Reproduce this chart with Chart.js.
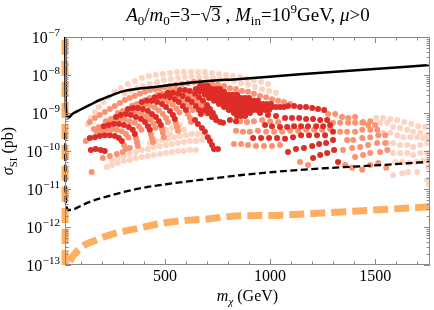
<!DOCTYPE html>
<html>
<head>
<meta charset="utf-8">
<script src="https://cdn.jsdelivr.net/npm/chart.js@4/dist/chart.umd.min.js"></script>
<style>
  html, body { margin: 0; padding: 0; background: #fff; }
  canvas { display: block; }
</style>
</head>
<body>
<canvas id="sigmaChart" width="434" height="310"></canvas>
<script>
// Limit curves: [m_chi (GeV), sigma_SI (pb)]
const solidLimit = [
    [26, 2e-7], [27, 1e-8], [29, 1.5e-9], [33, 9e-10], [40, 7.6e-10], [63, 9.7e-10],
    [95, 1.2e-9], [143, 1.63e-9], [190, 2.2e-9], [224, 2.6e-9], [300, 3.7e-9], [462, 4.9e-9],
    [666, 6.6e-9], [857, 7.9e-9], [1142, 1.04e-8], [1428, 1.36e-8], [1761, 1.83e-8],
];
const dashedLimit = [
    [26, 3e-10], [27, 2e-11], [29, 5e-12], [33, 3.3e-12], [40, 2.8e-12], [50, 2.8e-12],
    [65, 2.9e-12], [100, 3.6e-12], [143, 4.6e-12], [222, 6.3e-12], [381, 1.04e-11],
    [538, 1.41e-11], [666, 1.73e-11], [857, 2.3e-11], [1047, 2.9e-11], [1214, 3.4e-11],
    [1476, 4.1e-11], [1761, 5.2e-11],
];
const orangeLimit = [
    [25, 3e-7], [25.3, 1e-10], [25.6, 8e-14], [32, 5e-14], [40, 8e-14], [48, 1.2e-13],
    [76, 2.1e-13], [105, 3.0e-13], [162, 4.3e-13], [267, 6.9e-13], [367, 9.1e-13],
    [481, 1.24e-12], [590, 1.48e-12], [700, 1.62e-12], [809, 1.9e-12], [1050, 2.05e-12],
    [1286, 2.4e-12], [1520, 2.85e-12], [1761, 3.4e-12],
];

// Scan points, three shades
const redPoints = [
    [148, 1.06e-10], [171, 1.13e-10], [195, 1.06e-10], [214, 1.0e-10],
    [143, 2.2e-10], [167, 2.3e-10], [190, 2.5e-10], [214, 2.6e-10], [238, 2.6e-10], [262, 2.5e-10], [281, 2.2e-10], [295, 1.84e-10],
    [209, 4.5e-10], [233, 4.8e-10], [257, 5.1e-10], [281, 5.1e-10], [305, 4.8e-10], [328, 4.3e-10], [347, 3.6e-10], [357, 2.8e-10],
    [267, 7.8e-10], [290, 8.9e-10], [314, 9.4e-10], [338, 8.9e-10], [362, 7.8e-10], [386, 6.9e-10], [405, 5.8e-10], [419, 4.5e-10], [428, 3.6e-10],
    [324, 1.27e-9], [347, 1.35e-9], [371, 1.35e-9], [395, 1.27e-9], [419, 1.13e-9], [438, 9.4e-10], [457, 7.8e-10], [471, 6.1e-10], [481, 4.8e-10],
    [390, 1.95e-9], [414, 2.1e-9], [438, 2.1e-9], [462, 1.95e-9], [486, 1.73e-9], [505, 1.44e-9], [524, 1.13e-9], [538, 8.9e-10], [547, 6.9e-10],
    [452, 2.6e-9], [476, 2.8e-9], [500, 2.8e-9], [524, 2.6e-9], [547, 2.3e-9], [566, 1.95e-9], [585, 1.53e-9], [600, 1.2e-9],
    [514, 3.4e-9], [538, 3.4e-9], [562, 3.2e-9], [585, 2.8e-9], [609, 2.3e-9], [628, 1.95e-9], [647, 1.53e-9], [662, 1.2e-9], [671, 9.4e-10],
    [571, 4.0e-9], [595, 4.0e-9], [619, 3.8e-9], [643, 3.2e-9], [662, 2.6e-9], [681, 2.1e-9], [700, 1.63e-9], [714, 1.27e-9], [728, 1.0e-9], [738, 7.8e-10],
    [643, 6.5e-10], [657, 5.1e-10], [676, 4.0e-10], [690, 3.2e-10], [704, 2.3e-10], [714, 1.84e-10], [724, 1.44e-10], [733, 1.13e-10], [752, 1.13e-10],
    [690, 1.2e-9], [704, 1.0e-9], [724, 7.8e-10], [743, 6.5e-10], [762, 5.8e-10], [776, 5.5e-10], [809, 6.5e-10], [838, 6.1e-10],
    [666, 5.1e-9], [685, 5.1e-9], [704, 5.1e-9],
    [647, 4.3e-9], [666, 4.3e-9], [685, 4.3e-9], [704, 4.3e-9], [724, 4.3e-9], [743, 4.3e-9], [762, 4.3e-9],
    [666, 3.6e-9], [685, 3.6e-9], [704, 3.6e-9], [724, 3.6e-9], [743, 3.6e-9], [762, 3.6e-9], [781, 3.6e-9],
    [690, 3.0e-9], [709, 3.0e-9], [728, 3.0e-9], [747, 3.0e-9], [766, 3.0e-9], [785, 3.0e-9], [804, 3.0e-9], [823, 3.0e-9], [843, 3.0e-9],
    [709, 2.5e-9], [728, 2.5e-9], [747, 2.5e-9], [766, 2.5e-9], [785, 2.5e-9], [804, 2.5e-9], [823, 2.5e-9], [843, 2.5e-9], [862, 2.5e-9], [881, 2.5e-9], [900, 2.5e-9],
    [733, 2.1e-9], [752, 2.1e-9], [771, 2.1e-9], [790, 2.1e-9], [809, 2.1e-9], [828, 2.1e-9], [847, 2.1e-9], [866, 2.1e-9], [886, 2.1e-9], [904, 2.1e-9], [923, 2.1e-9], [942, 2.1e-9],
    [757, 1.73e-9], [776, 1.73e-9], [795, 1.73e-9], [814, 1.73e-9], [833, 1.73e-9], [852, 1.73e-9], [871, 1.73e-9], [890, 1.73e-9], [909, 1.73e-9], [928, 1.73e-9], [947, 1.73e-9], [966, 1.73e-9], [985, 1.73e-9], [1004, 1.73e-9],
    [781, 1.44e-9], [800, 1.44e-9], [819, 1.44e-9], [838, 1.44e-9], [857, 1.44e-9], [876, 1.44e-9], [895, 1.44e-9], [914, 1.44e-9], [933, 1.44e-9], [952, 1.44e-9], [971, 1.44e-9], [990, 1.44e-9], [1009, 1.44e-9], [1028, 1.44e-9], [1047, 1.44e-9], [1066, 1.44e-9],
    [804, 1.2e-9], [823, 1.2e-9], [843, 1.2e-9], [862, 1.2e-9], [881, 1.2e-9], [900, 1.2e-9], [919, 1.2e-9], [938, 1.2e-9], [957, 1.2e-9], [976, 1.2e-9], [995, 1.2e-9],
    [828, 1.0e-9], [847, 1.0e-9], [866, 1.0e-9], [886, 1.0e-9], [904, 1.0e-9],
    [843, 8.3e-10], [862, 8.3e-10], [881, 8.3e-10],
    [1085, 1.53e-9], [1114, 1.53e-9], [1142, 1.44e-9], [1171, 1.44e-9], [1200, 1.35e-9], [1228, 1.27e-9], [1257, 1.2e-9],
    [952, 1.0e-9], [990, 8.9e-10], [1028, 8.3e-10], [1071, 7.4e-10], [1104, 7.4e-10], [1138, 7.4e-10], [1171, 6.9e-10], [1204, 6.9e-10], [1238, 6.5e-10], [1271, 6.5e-10],
    [976, 4.8e-10], [1009, 4.5e-10], [1047, 4.3e-10], [1081, 4.3e-10], [1114, 4.5e-10], [1147, 4.5e-10], [1180, 4.5e-10], [1219, 4.5e-10], [1252, 4.5e-10], [1285, 4.8e-10],
    [919, 2.2e-10], [957, 2.2e-10], [995, 2.2e-10], [1033, 2.2e-10], [1071, 2.1e-10], [1109, 2.3e-10], [1147, 2.6e-10], [1185, 2.6e-10], [1223, 2.6e-10], [1261, 2.6e-10], [1299, 3.2e-10],
    [1085, 9.4e-11], [1123, 1.13e-10], [1161, 1.2e-10], [1200, 1.35e-10], [1233, 1.53e-10], [1266, 1.63e-10], [1299, 1.95e-10],
    [1204, 6.5e-11], [1238, 7.8e-11], [1271, 8.9e-11], [1304, 1.06e-10], [1323, 5.1e-11],
];

const salmonPoints = [
    [124, 1.84e-10], [162, 3.8e-10], [186, 4.3e-10], [219, 6.1e-10], [243, 6.9e-10], [276, 1.0e-9], [300, 1.13e-9],
    [343, 1.53e-9], [367, 1.73e-9], [405, 2.2e-9], [428, 2.5e-9], [466, 3.0e-9], [490, 3.2e-9], [524, 3.8e-9], [547, 4.0e-9],
    [143, 5.8e-10], [167, 7.4e-10], [190, 8.9e-10], [214, 1.06e-9], [238, 1.27e-9], [262, 1.53e-9], [286, 1.84e-9],
    [309, 2.2e-9], [333, 2.5e-9], [357, 2.8e-9], [381, 3.2e-9], [405, 3.6e-9], [428, 4.0e-9], [452, 4.3e-9], [476, 4.5e-9],
    [500, 4.8e-9], [524, 5.1e-9], [552, 5.5e-9], [581, 5.8e-9], [609, 6.1e-9], [638, 6.5e-9], [666, 6.5e-9], [695, 6.1e-9],
    [724, 5.8e-9], [752, 5.5e-9], [781, 5.1e-9], [809, 4.5e-9], [838, 4.3e-9], [866, 3.8e-9], [895, 3.6e-9], [923, 3.2e-9],
    [952, 2.8e-9], [981, 2.6e-9], [1009, 2.3e-9], [1038, 2.1e-9], [1066, 1.95e-9], [1095, 1.73e-9],
    // arcs lying between the red ones
    [176, 3.2e-10], [200, 3.4e-10], [224, 3.6e-10], [248, 3.7e-10], [271, 3.6e-10], [295, 3.3e-10], [314, 2.8e-10], [326, 2.25e-10],
    [238, 6.0e-10], [262, 6.5e-10], [286, 6.9e-10], [309, 6.7e-10], [333, 6.1e-10], [357, 5.5e-10], [376, 4.5e-10], [388, 3.6e-10],
    [295, 1.0e-9], [319, 1.1e-9], [343, 1.13e-9], [367, 1.06e-9], [390, 9.4e-10], [412, 8.0e-10], [431, 6.7e-10], [445, 5.3e-10], [455, 4.1e-10],
    [357, 1.58e-9], [381, 1.68e-9], [405, 1.68e-9], [428, 1.58e-9], [452, 1.4e-9], [471, 1.16e-9], [490, 9.4e-10], [505, 7.4e-10], [514, 5.8e-10],
    [421, 2.25e-9], [445, 2.4e-9], [469, 2.4e-9], [493, 2.25e-9], [516, 2.0e-9], [536, 1.68e-9], [555, 1.31e-9], [569, 1.03e-9],
    [483, 3.0e-9], [507, 3.1e-9], [531, 3.0e-9], [555, 2.7e-9], [578, 2.3e-9], [597, 1.95e-9], [616, 1.53e-9], [633, 1.2e-9],
    [543, 3.7e-9], [566, 3.7e-9], [590, 3.5e-9], [614, 3.0e-9], [635, 2.5e-9], [657, 2.0e-9], [674, 1.58e-9], [688, 1.23e-9], [700, 9.7e-10],
    [305, 1.44e-10], [314, 1.13e-10], [362, 2.2e-10], [367, 1.73e-10], [371, 1.35e-10], [433, 2.8e-10], [438, 2.2e-10], [443, 1.73e-10],
    [486, 3.8e-10], [490, 3.0e-10], [495, 2.3e-10], [552, 5.5e-10], [557, 4.3e-10], [562, 3.4e-10], [609, 9.4e-10], [619, 7.4e-10], [624, 5.8e-10],
    [857, 6.1e-10], [890, 5.8e-10], [923, 6.1e-10], [962, 6.5e-10], [1000, 6.1e-10], [1038, 5.8e-10],
    [838, 3.4e-10], [871, 3.2e-10], [904, 3.2e-10], [942, 3.4e-10], [981, 3.2e-10], [1019, 3.2e-10], [1057, 3.2e-10],
    [1095, 3.4e-10], [1133, 3.4e-10], [1171, 3.6e-10], [1209, 3.6e-10], [1247, 3.6e-10], [1285, 3.8e-10],
    [828, 1.53e-10], [862, 1.53e-10], [895, 1.44e-10], [933, 1.35e-10], [971, 1.35e-10], [1009, 1.35e-10], [1047, 1.44e-10],
    [1142, 5.1e-11], [1180, 4.3e-11], [1357, 4.3e-11], [1390, 3.6e-11],
    [1276, 9.4e-10], [1309, 9.4e-10], [1342, 7.8e-10], [1371, 7.4e-10], [1404, 7.8e-10], [1442, 5.8e-10], [1476, 6.1e-10],
    [1299, 5.5e-10], [1333, 5.5e-10], [1371, 5.5e-10], [1404, 5.5e-10], [1438, 5.5e-10], [1466, 4.8e-10], [1499, 4.8e-10],
    [1333, 3.2e-10], [1366, 3.2e-10], [1404, 3.2e-10], [1438, 3.6e-10], [1476, 3.6e-10], [1509, 3.6e-10],
    [1366, 1.95e-10], [1395, 1.95e-10], [1438, 2.2e-10], [1476, 2.3e-10], [1514, 2.6e-10], [1547, 2.6e-10],
    [1347, 1.06e-10], [1390, 1.2e-10], [1428, 1.27e-10], [1466, 1.44e-10], [1509, 1.63e-10], [1547, 1.63e-10],
    [1404, 6.9e-11], [1442, 7.8e-11], [1476, 8.9e-11], [1523, 9.4e-11], [1557, 1.06e-10],
    [1438, 3.2e-11], [1476, 4.3e-11], [1514, 4.8e-11], [1552, 3.6e-11],
    [205, 6.5e-11], [238, 7.4e-11], [271, 8.3e-11], [300, 9.4e-11], [333, 1.2e-10], [152, 2.8e-11],
];

const palePoints = [
    [133, 5.1e-10], [148, 7.4e-10], [167, 1.06e-9], [186, 1.44e-9], [209, 1.95e-9], [233, 2.6e-9], [262, 3.6e-9],
    [290, 4.5e-9], [324, 5.8e-9], [357, 6.9e-9], [390, 8.3e-9], [424, 9.4e-9], [457, 1.0e-8], [490, 1.06e-8],
    [524, 1.13e-8], [557, 1.2e-8], [590, 1.2e-8], [624, 1.2e-8], [657, 1.2e-8], [690, 1.2e-8], [724, 1.13e-8],
    [757, 1.06e-8], [790, 1.0e-8], [823, 9.4e-9], [857, 8.9e-9], [890, 7.8e-9], [923, 7.4e-9], [957, 6.5e-9], [990, 5.8e-9],
    [309, 3.2e-9], [338, 3.8e-9], [367, 4.5e-9], [395, 5.1e-9], [428, 5.8e-9], [462, 6.5e-9], [495, 7.4e-9], [528, 7.8e-9],
    [562, 8.3e-9], [595, 8.9e-9], [628, 8.9e-9], [662, 8.9e-9], [695, 8.9e-9], [728, 8.3e-9], [762, 7.8e-9], [795, 7.4e-9],
    [828, 6.9e-9], [862, 6.1e-9], [895, 5.5e-9], [928, 4.8e-9], [962, 4.3e-9], [995, 3.8e-9], [1028, 3.4e-9],
    [224, 3.8e-11], [248, 4.3e-11], [276, 4.8e-11], [305, 5.5e-11], [333, 5.8e-11], [362, 6.5e-11], [390, 6.9e-11], [419, 7.4e-11],
    [447, 7.8e-11], [476, 8.3e-11], [505, 8.9e-11], [533, 9.4e-11], [562, 1.0e-10], [590, 1.0e-10], [619, 1.06e-10], [647, 1.06e-10],
    [248, 5.8e-11], [276, 6.5e-11], [305, 7.4e-11], [333, 8.3e-11], [362, 9.4e-11], [390, 1.06e-10], [419, 1.13e-10], [447, 1.27e-10],
    [476, 1.35e-10], [505, 1.44e-10], [533, 1.53e-10], [562, 1.63e-10], [590, 1.73e-10], [619, 1.84e-10], [647, 1.84e-10], [676, 1.95e-10],
    [428, 1.63e-10], [457, 1.84e-10], [486, 1.95e-10], [514, 2.1e-10], [543, 2.3e-10], [571, 2.5e-10], [600, 2.6e-10],
    [628, 2.8e-10], [657, 2.8e-10], [685, 2.6e-10],
    [505, 3.6e-10], [533, 4.0e-10], [571, 4.8e-10], [590, 3.6e-10], [524, 2.8e-10],
    [1504, 7.4e-10], [1537, 7.4e-10], [1571, 6.9e-10], [1604, 6.5e-10], [1638, 5.8e-10], [1671, 5.1e-10], [1704, 4.5e-10], [1737, 4.3e-10],
    [1523, 5.5e-10], [1557, 5.5e-10], [1585, 4.3e-10], [1618, 4.0e-10], [1652, 3.6e-10], [1680, 3.2e-10], [1714, 3.0e-10], [1747, 2.6e-10],
    [1537, 3.0e-10], [1571, 3.0e-10], [1604, 2.6e-10], [1633, 2.3e-10], [1666, 2.3e-10], [1699, 2.3e-10], [1728, 2.2e-10], [1752, 2.1e-10],
    [1557, 1.63e-10], [1585, 1.63e-10], [1618, 1.44e-10], [1652, 1.44e-10], [1680, 1.27e-10], [1714, 1.44e-10], [1747, 1.63e-10],
    [1585, 8.9e-11], [1618, 8.9e-11], [1652, 8.9e-11], [1680, 7.8e-11], [1714, 8.9e-11], [1747, 8.9e-11],
    [1595, 5.1e-11], [1628, 5.1e-11], [1661, 4.8e-11], [1695, 5.1e-11], [1728, 5.5e-11], [1756, 5.8e-11],
    [1585, 2.3e-11], [1628, 2.6e-11], [1656, 2.8e-11], [1699, 2.8e-11], [1747, 1.73e-11], [1752, 3.8e-11], [1755, 1.3e-11],
];

// Axis ticks
const xMajorTicks = [500, 1000, 1500];
const xMinorTicks = [100, 200, 300, 400, 500, 600, 700, 800, 900, 1000, 1100, 1200, 1300, 1400, 1500, 1600, 1700];
const yDecades = [1e-13, 1e-12, 1e-11, 1e-10, 1e-9, 1e-8, 1e-7];
const yExponents = ['\u221213', '\u221212', '\u221211', '\u221210', '\u22129', '\u22128', '\u22127'];

const SERIF = '"Liberation Serif", "Times New Roman", serif';

function font(size, italic) {
    return (italic ? 'italic ' : '') + size + 'px ' + SERIF;
}

function toXY(list) {
    return list.map(p => ({ x: p[0], y: p[1] }));
}

// draws a row of text pieces centred on cx
function drawRuns(ctx, runs, cx, baseline) {
    let total = 0;
    runs.forEach(r => {
        ctx.font = r.font;
        r.w = ctx.measureText(r.t).width;
        total += r.w;
    });
    let xx = cx - total / 2;
    runs.forEach(r => {
        ctx.font = r.font;
        ctx.fillText(r.t, xx, baseline + (r.dy || 0));
        if (r.bar) ctx.fillRect(xx - 1, baseline - r.bar, r.w + 2, 1.2);
        xx += r.w;
    });
}

const frameAndText = {
    id: 'frameAndText',
    afterDraw(chart) {
        const { ctx, chartArea: a, scales } = chart;
        const xs = scales.x, ys = scales.y;
        ctx.save();

        // frame
        ctx.strokeStyle = '#8a8a8a';
        ctx.lineWidth = 1;
        ctx.strokeRect(a.left + 0.5, a.top + 0.5, a.right - a.left - 1, a.bottom - a.top - 1);

        // ticks pointing inward, all four sides
        ctx.beginPath();
        xMinorTicks.forEach(v => {
            const px = Math.round(xs.getPixelForValue(v)) + 0.5;
            const len = xMajorTicks.includes(v) ? 6 : 3.5;
            ctx.moveTo(px, a.bottom); ctx.lineTo(px, a.bottom - len);
            ctx.moveTo(px, a.top); ctx.lineTo(px, a.top + len);
        });
        yDecades.forEach((d, i) => {
            const py = Math.round(ys.getPixelForValue(d)) + 0.5;
            ctx.moveTo(a.left, py); ctx.lineTo(a.left + 6, py);
            ctx.moveTo(a.right, py); ctx.lineTo(a.right - 6, py);
            if (i === yDecades.length - 1) return;
            for (let m = 2; m <= 9; m++) {
                const pm = Math.round(ys.getPixelForValue(d * m)) + 0.5;
                ctx.moveTo(a.left, pm); ctx.lineTo(a.left + 3.5, pm);
                ctx.moveTo(a.right, pm); ctx.lineTo(a.right - 3.5, pm);
            }
        });
        ctx.stroke();

        ctx.fillStyle = '#000';
        ctx.textBaseline = 'alphabetic';
        ctx.textAlign = 'left';

        // y tick labels 10^n
        yDecades.forEach((d, i) => {
            const py = ys.getPixelForValue(d);
            ctx.font = font(11);
            const ew = ctx.measureText(yExponents[i]).width;
            ctx.fillText(yExponents[i], 60 - ew, py - 1);
            ctx.font = font(16);
            const bw = ctx.measureText('10').width;
            ctx.fillText('10', 60 - ew - bw - 0.5, py + 5.5);
        });

        // x tick labels
        ctx.font = font(16);
        xMajorTicks.forEach(v => {
            const t = String(v);
            const w = ctx.measureText(t).width;
            ctx.fillText(t, xs.getPixelForValue(v) - w / 2, 281);
        });

        // axis titles
        drawRuns(ctx, [
            { t: 'm', font: font(16, true) },
            { t: '\u03C7', font: font(11, true), dy: 4 },
            { t: ' (GeV)', font: font(16) },
        ], (a.left + a.right) / 2, 301);

        ctx.save();
        ctx.translate(13, (a.top + a.bottom) / 2);
        ctx.rotate(-Math.PI / 2);
        drawRuns(ctx, [
            { t: '\u03C3', font: font(16, true) },
            { t: 'SI', font: font(11), dy: 4 },
            { t: ' (pb)', font: font(16) },
        ], 0, 0);
        ctx.restore();

        // title
        drawRuns(ctx, [
            { t: 'A', font: font(19, true) },
            { t: '0', font: font(13), dy: 4 },
            { t: '/', font: font(19) },
            { t: 'm', font: font(19, true) },
            { t: '0', font: font(13), dy: 4 },
            { t: '=3\u2212', font: font(19) },
            { t: '\u221A', font: font(19) },
            { t: '3', font: font(19), bar: 15 },
            { t: ' , ', font: font(19) },
            { t: 'M', font: font(19, true) },
            { t: 'in', font: font(13), dy: 4 },
            { t: '=10', font: font(19) },
            { t: '9', font: font(13), dy: -8 },
            { t: 'GeV, ', font: font(19) },
            { t: '\u03BC', font: font(19, true) },
            { t: '>0', font: font(19) },
        ], 248, 21);

        ctx.restore();
    },
};

const dots = (data, color) => ({
    data: toXY(data),
    pointRadius: 3,
    pointHoverRadius: 3,
    pointBorderWidth: 0,
    pointBackgroundColor: color,
    showLine: false,
});

const curve = (data, color, width, dash, clipLeft) => ({
    data: toXY(data),
    showLine: true,
    pointRadius: 0,
    borderColor: color,
    borderWidth: width,
    borderDash: dash,
    borderCapStyle: 'butt',
    cubicInterpolationMode: 'monotone',
    fill: false,
    clip: { left: clipLeft, top: 0, right: 0, bottom: 0 },
});

new Chart(document.getElementById('sigmaChart'), {
    type: 'scatter',
    data: {
        datasets: [
            curve(solidLimit, '#000', 2.5, [], 3),
            curve(dashedLimit, '#000', 2.3, [7, 3.5], 3),
            curve(orangeLimit, '#fdae61', 7, [15, 6], 8),
            dots(redPoints, '#de2d26'),
            dots(salmonPoints, '#fc9272'),
            dots(palePoints, '#fdd3c1'),
        ],
    },
    options: {
        responsive: false,
        animation: false,
        events: [],
        layout: { padding: { left: 0, right: 4, top: 37, bottom: 0 } },
        plugins: { legend: { display: false }, tooltip: { enabled: false } },
        scales: {
            x: {
                type: 'linear', min: 25, max: 1760,
                grid: { display: false }, border: { display: false },
                ticks: { display: false },
                afterFit: s => { s.height = 45; },
            },
            y: {
                type: 'logarithmic', min: 1e-13, max: 1e-7,
                grid: { display: false }, border: { display: false },
                ticks: { display: false },
                afterFit: s => { s.width = 65; },
            },
        },
    },
    plugins: [frameAndText],
});
</script>
</body>
</html>
